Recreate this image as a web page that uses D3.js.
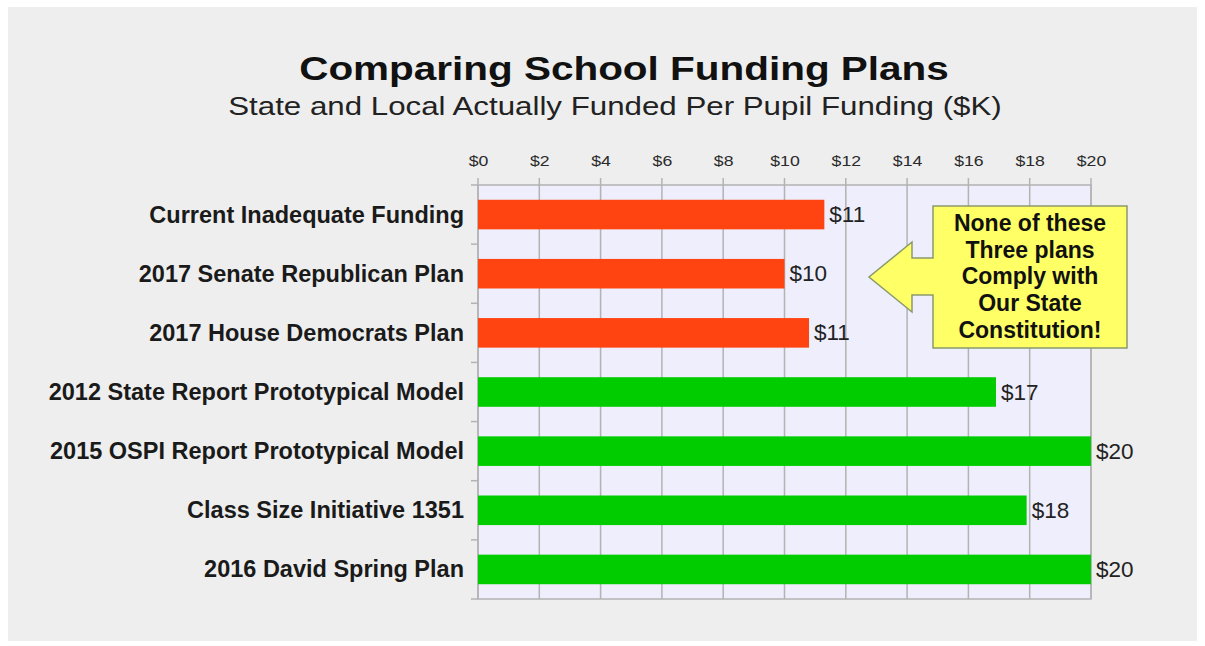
<!DOCTYPE html>
<html>
<head>
<meta charset="utf-8">
<script src="https://cdn.jsdelivr.net/npm/d3@7"></script>
<style>
  body { margin: 0; background: #ffffff; }
  svg { display: block; font-family: "Liberation Sans", Arial, sans-serif; }
</style>
</head>
<body>
<div id="chart"></div>
<script>
// data
var plans = [
    'Current Inadequate Funding',
    '2017 Senate Republican Plan',
    '2017 House Democrats Plan',
    '2012 State Report Prototypical Model',
    '2015 OSPI Report Prototypical Model',
    'Class Size Initiative 1351',
    '2016 David Spring Plan'
];
var funding = [11.3, 10.0, 10.8, 16.9, 20.0, 17.9, 20.0];
var compliant = [false, false, false, true, true, true, true];
var xTicks = [0, 2, 4, 6, 8, 10, 12, 14, 16, 18, 20];
var calloutLines = ['None of these', 'Three plans', 'Comply with', 'Our State', 'Constitution!'];

var width = 1205;
var height = 646;
var plot = { left: 478, top: 185, right: 1091, bottom: 599 };

var svg = d3.select('#chart')
    .append('svg')
    .attr('width', width)
    .attr('height', height);

// the picture is a bit wider than tall, so some texts get stretched sideways
function stretch(selection, factor) {
    selection.each(function() {
        var len = this.getComputedTextLength();
        d3.select(this)
            .attr('textLength', len * factor)
            .attr('lengthAdjust', 'spacingAndGlyphs');
    });
}

// grey panel
svg.append('rect')
    .attr('x', 8)
    .attr('y', 7)
    .attr('width', 1189)
    .attr('height', 634)
    .style('fill', '#eeeeee');

// titles
svg.append('text')
    .attr('x', 624)
    .attr('y', 80)
    .attr('text-anchor', 'middle')
    .style('font-size', '34px')
    .style('font-weight', 'bold')
    .style('fill', '#111')
    .text('Comparing School Funding Plans')
    .call(stretch, 1.19);

svg.append('text')
    .attr('x', 615)
    .attr('y', 115)
    .attr('text-anchor', 'middle')
    .style('font-size', '26.5px')
    .style('fill', '#222')
    .text('State and Local Actually Funded Per Pupil Funding ($K)')
    .call(stretch, 1.18);

var x = d3.scaleLinear()
    .domain([0, 20])
    .range([plot.left, plot.right]);

var y = d3.scaleBand()
    .domain(plans)
    .range([plot.top, plot.bottom])
    .paddingInner(0.5)
    .paddingOuter(0.25);

// plot background
svg.append('rect')
    .attr('x', plot.left)
    .attr('y', plot.top)
    .attr('width', plot.right - plot.left)
    .attr('height', plot.bottom - plot.top)
    .style('fill', '#eeeefc')
    .style('stroke', '#b3b3b3')
    .style('stroke-width', 1.5);

// vertical grid
svg.append('g')
    .selectAll('line')
    .data(xTicks)
    .enter()
    .append('line')
    .attr('x1', function(d) { return x(d); })
    .attr('x2', function(d) { return x(d); })
    .attr('y1', plot.top - 7)
    .attr('y2', plot.bottom)
    .style('stroke', '#b3b3b3')
    .style('stroke-width', 1.5);

// top axis labels
var xAxis = d3.axisTop(x)
    .tickValues(xTicks)
    .tickSize(0)
    .tickPadding(0)
    .tickFormat(function(d) { return '$' + d; });

var xAxisG = svg.append('g')
    .attr('transform', 'translate(0,' + 166 + ')')
    .call(xAxis);
xAxisG.select('.domain').remove();
xAxisG.selectAll('text')
    .style('font-family', '"Liberation Sans", Arial, sans-serif')
    .style('font-size', '15.5px')
    .style('fill', '#2a2a2a')
    .call(stretch, 1.14);

// left ticks at category boundaries
var boundaries = d3.range(plans.length + 1).map(function(i) {
    return plot.top + i * (plot.bottom - plot.top) / plans.length;
});
svg.append('g')
    .selectAll('line')
    .data(boundaries)
    .enter()
    .append('line')
    .attr('x1', plot.left - 7)
    .attr('x2', plot.left)
    .attr('y1', function(d) { return d; })
    .attr('y2', function(d) { return d; })
    .style('stroke', '#b3b3b3')
    .style('stroke-width', 1.5);

// category labels
svg.append('g')
    .selectAll('text')
    .data(plans)
    .enter()
    .append('text')
    .attr('x', 464)
    .attr('y', function(d) { return y(d) + y.bandwidth() / 2; })
    .attr('text-anchor', 'end')
    .attr('dominant-baseline', 'central')
    .style('font-size', '23.5px')
    .style('font-weight', 'bold')
    .style('fill', '#1a1a1a')
    .text(function(d) { return d; });

// bars
svg.append('g')
    .selectAll('rect')
    .data(plans)
    .enter()
    .append('rect')
    .attr('x', x(0))
    .attr('y', function(d) { return y(d); })
    .attr('width', function(d, i) { return x(funding[i]) - x(0); })
    .attr('height', y.bandwidth())
    .style('fill', function(d, i) { return compliant[i] ? '#00cc00' : '#ff4411'; });

// value labels
svg.append('g')
    .selectAll('text')
    .data(plans)
    .enter()
    .append('text')
    .attr('x', function(d, i) { return x(funding[i]) + 5; })
    .attr('y', function(d) { return y(d) + y.bandwidth() / 2; })
    .attr('dominant-baseline', 'central')
    .style('font-size', '22.5px')
    .style('fill', '#222')
    .text(function(d, i) { return '$' + Math.round(funding[i]); });

// callout arrow box
var box = { left: 933, right: 1127, top: 206, bottom: 348 };
var tipY = 277;
var callout = [
    [box.left, box.top],
    [box.right, box.top],
    [box.right, box.bottom],
    [box.left, box.bottom],
    [box.left, 295],
    [912, 295],
    [912, 312],
    [869, tipY],
    [912, 242],
    [912, 258],
    [box.left, 258]
];
svg.append('path')
    .attr('d', d3.line()(callout) + 'Z')
    .style('fill', '#ffff66')
    .style('stroke', '#8a9a6a')
    .style('stroke-width', 1.5);

svg.append('g')
    .selectAll('text')
    .data(calloutLines)
    .enter()
    .append('text')
    .attr('x', 1030)
    .attr('y', function(d, i) { return 223 + i * 26.7; })
    .attr('text-anchor', 'middle')
    .attr('dominant-baseline', 'central')
    .style('font-size', '23px')
    .style('font-weight', 'bold')
    .style('fill', '#111')
    .text(function(d) { return d; });
</script>
</body>
</html>
